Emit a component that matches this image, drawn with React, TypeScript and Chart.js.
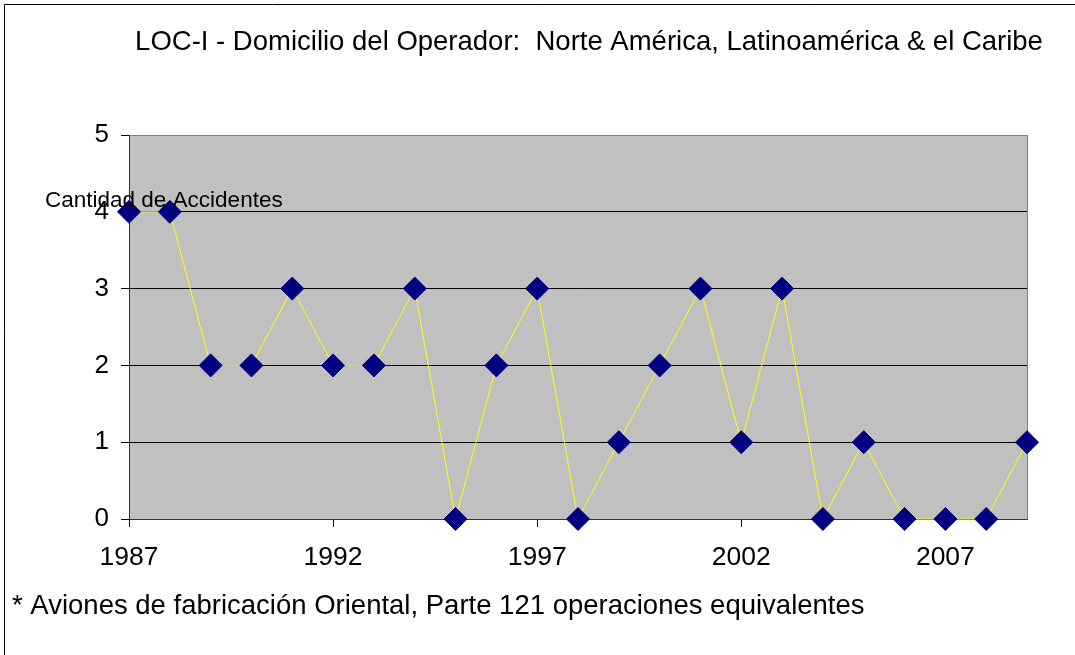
import { useEffect, useRef } from 'react';
import { Chart, registerables } from 'chart.js';

Chart.register(...registerables);

const years = [
  '1987', '1988', '1989', '1990', '1991', '1992', '1993', '1994', '1995', '1996', '1997', '1998',
  '1999', '2000', '2001', '2002', '2003', '2004', '2005', '2006', '2007', '2008', '2009',
];
const accidents = [4, 4, 2, 2, 3, 2, 2, 3, 0, 2, 3, 0, 1, 2, 3, 1, 3, 0, 1, 0, 0, 0, 1];
const yMin = 0;
const yMax = 5;
const yStep = 1;
const labelEvery = 5;

const titleText = 'LOC-I - Domicilio del Operador:  Norte América, Latinoamérica & el Caribe';
const yAxisTitle = 'Cantidad de Accidentes';
const footnote = '* Aviones de fabricación Oriental, Parte 121 operaciones equivalentes';

const FONT = "'Liberation Sans', Arial, sans-serif";

const decorPlugin = {
  id: 'decor',
  beforeDraw(chart: any) {
    const { ctx, chartArea: a } = chart;
    ctx.save();
    ctx.fillStyle = '#ffffff';
    ctx.fillRect(0, 0, chart.width, chart.height);
    ctx.fillStyle = '#c0c0c0';
    ctx.fillRect(a.left, a.top, a.right - a.left, a.bottom - a.top);
    ctx.strokeStyle = '#000000';
    ctx.lineWidth = 1;
    ctx.beginPath();
    ctx.moveTo(4.5, chart.height + 2);
    ctx.lineTo(4.5, 4.5);
    ctx.lineTo(chart.width + 2, 4.5);
    ctx.stroke();
    ctx.restore();
  },
  beforeDatasetsDraw(chart: any) {
    const { ctx, chartArea: a } = chart;
    ctx.save();
    ctx.strokeStyle = '#808080';
    ctx.lineWidth = 1;
    ctx.beginPath();
    ctx.moveTo(Math.round(a.left) + 0.5, Math.round(a.top) + 0.5);
    ctx.lineTo(Math.round(a.right) + 0.5, Math.round(a.top) + 0.5);
    ctx.lineTo(Math.round(a.right) + 0.5, Math.round(a.bottom) + 0.5);
    ctx.stroke();
    ctx.restore();
  },
  afterDraw(chart: any) {
    const { ctx } = chart;
    ctx.save();
    ctx.fillStyle = '#000000';
    ctx.textBaseline = 'alphabetic';
    ctx.font = `27.5px ${FONT}`;
    ctx.textAlign = 'center';
    ctx.fillText(titleText, 589, 50);
    ctx.textAlign = 'left';
    ctx.fillText(footnote, 12, 614);
    ctx.font = `22.5px ${FONT}`;
    ctx.fillText(yAxisTitle, 45, 207);
    ctx.restore();
  },
};

export default function App() {
  const ref = useRef<HTMLCanvasElement | null>(null);
  useEffect(() => {
    if (!ref.current) return;
    const chart = new Chart(ref.current, {
      type: 'line',
      data: {
        labels: years,
        datasets: [
          {
            data: accidents,
            borderColor: '#ffff00',
            borderWidth: 1,
            backgroundColor: '#000080',
            pointBackgroundColor: '#000080',
            pointBorderColor: '#000080',
            pointBorderWidth: 1,
            pointStyle: 'rectRot',
            pointRadius: 11.5,
            pointHoverRadius: 11.5,
            tension: 0,
            clip: false as any,
          },
        ],
      },
      options: {
        responsive: false,
        animation: false,
        events: [],
        layout: { padding: { left: 0, top: 135, right: 48, bottom: 0 } },
        plugins: {
          legend: { display: false },
          title: { display: false },
          tooltip: { enabled: false },
        },
        scales: {
          x: {
            type: 'category',
            offset: false,
            afterFit(scale: any) {
              scale.height = 655 - 519;
            },
            afterBuildTicks(scale: any) {
              scale.ticks = scale.ticks.filter((t: any) => t.value % labelEvery === 0);
            },
            grid: {
              drawOnChartArea: false,
              drawTicks: true,
              tickLength: 8,
              tickColor: '#000000',
              color: '#000000',
            },
            border: { display: true, color: '#333333', width: 1 },
            ticks: {
              autoSkip: false,
              maxRotation: 0,
              minRotation: 0,
              padding: 15,
              color: '#000000',
              font: { family: FONT, size: 26.5 },
            },
          },
          y: {
            min: yMin,
            max: yMax,
            afterFit(scale: any) {
              scale.width = 129;
            },
            grid: {
              drawTicks: true,
              tickLength: 8,
              tickColor: '#000000',
              color: (ctx: any) => (ctx.tick && ctx.tick.value === yMax ? '#808080' : '#000000'),
              lineWidth: 1,
            },
            border: { display: true, color: '#333333', width: 1 },
            ticks: {
              stepSize: yStep,
              padding: 12,
              color: '#000000',
              font: { family: FONT, size: 26 },
            },
          },
        },
      },
      plugins: [decorPlugin],
    });
    return () => chart.destroy();
  }, []);
  return (
    <div style={{ position: 'fixed', left: 0, top: 0, width: 1075, height: 655, background: '#fff' }}>
      <canvas ref={ref} width={1075} height={655} style={{ display: 'block' }} />
    </div>
  );
}
